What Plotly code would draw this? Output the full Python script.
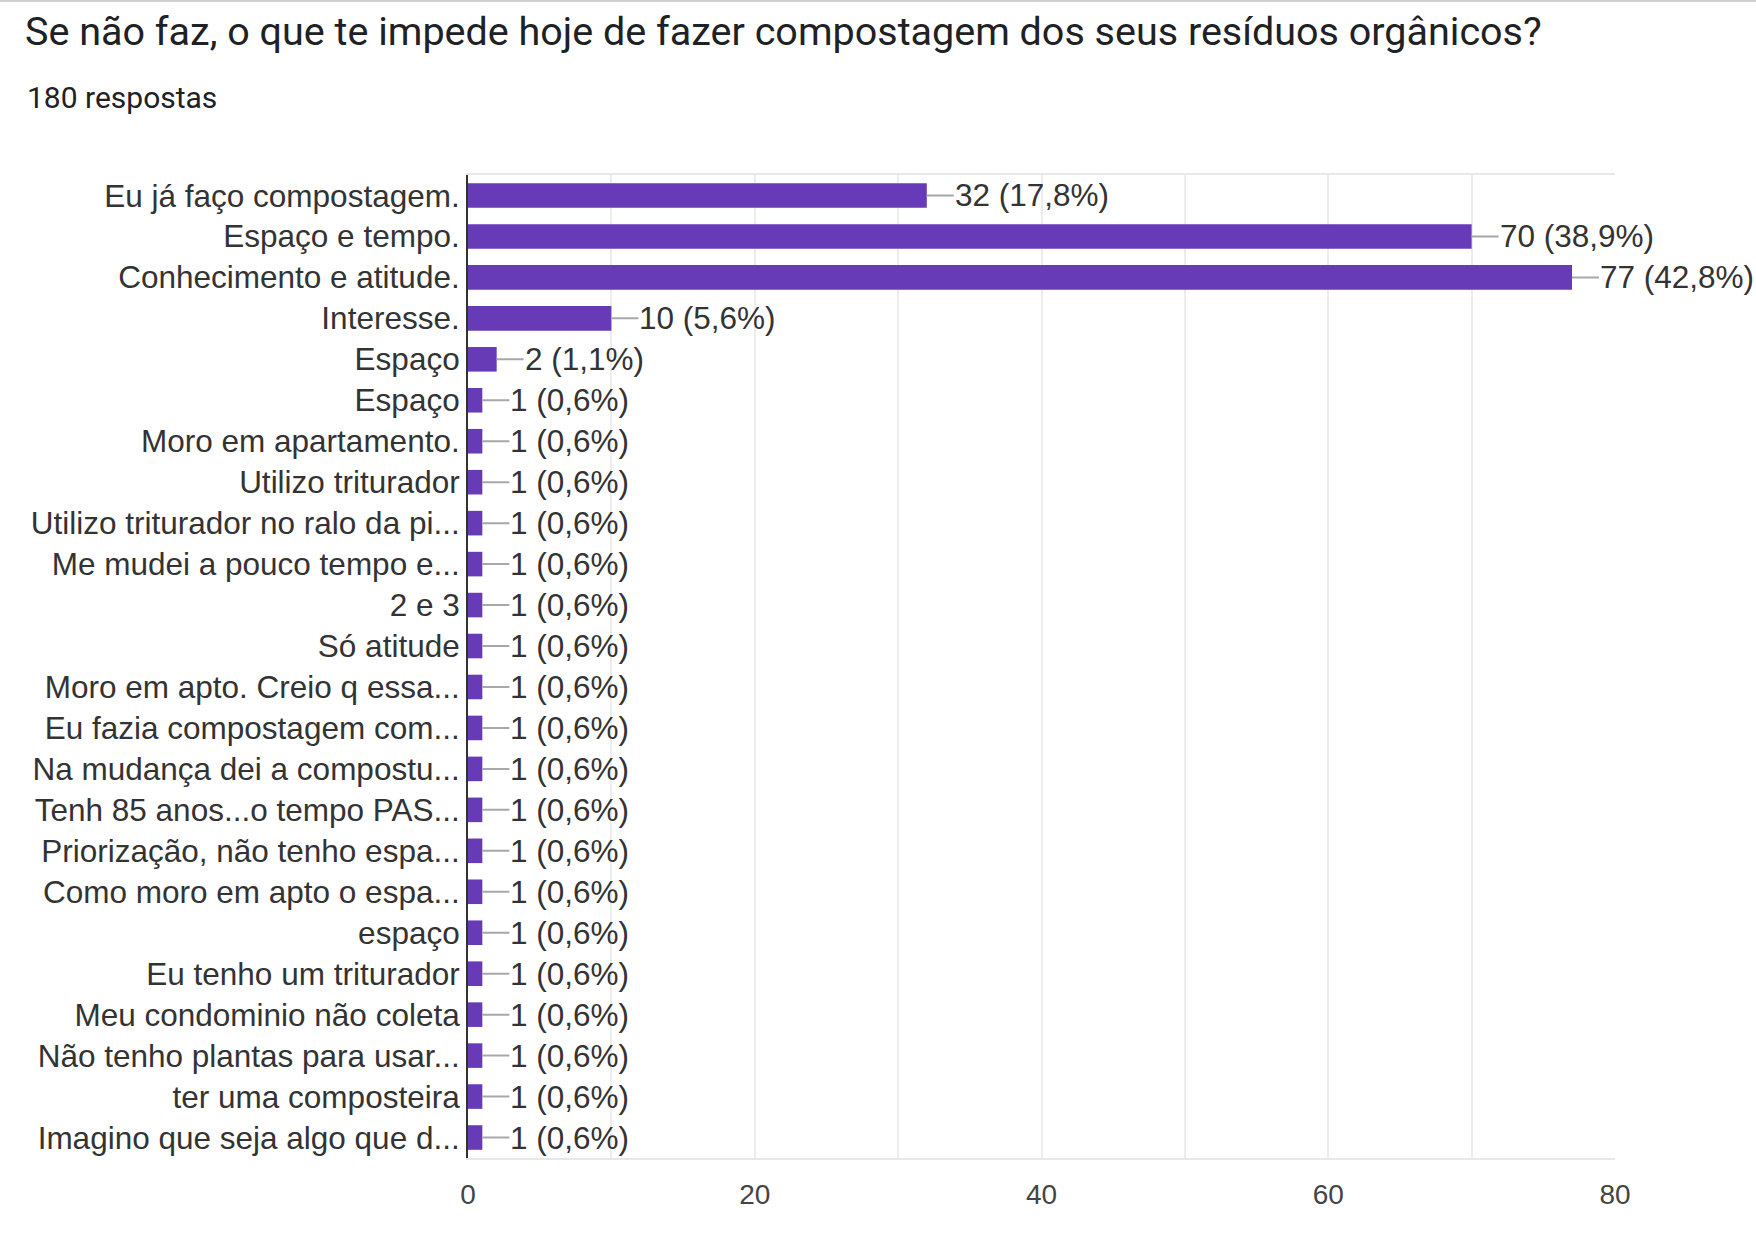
import plotly.graph_objects as go

W, H = 1756, 1233
L, R, T, B = 468, 141, 175, 75

title_text = "Se não faz, o que te impede hoje de fazer compostagem dos seus resíduos orgânicos?"
subtitle_text = "180 respostas"
total_responses = 180

categories = [
    "Eu já faço compostagem.",
    "Espaço e tempo.",
    "Conhecimento e atitude.",
    "Interesse.",
    "Espaço",
    "Espaço",
    "Moro em apartamento.",
    "Utilizo triturador",
    "Utilizo triturador no ralo da pi...",
    "Me mudei a pouco tempo e...",
    "2 e 3",
    "Só atitude",
    "Moro em apto. Creio q essa...",
    "Eu fazia compostagem com...",
    "Na mudança dei a compostu...",
    "Tenh 85 anos...o tempo PAS...",
    "Priorização, não tenho espa...",
    "Como moro em apto o espa...",
    "espaço",
    "Eu tenho um triturador",
    "Meu condominio não coleta",
    "Não tenho plantas para usar...",
    "ter uma composteira",
    "Imagino que seja algo que d...",
]
counts = [32, 70, 77, 10, 2, 1, 1, 1, 1, 1, 1, 1, 1, 1, 1, 1, 1, 1, 1, 1, 1, 1, 1, 1]
x_ticks = [0, 20, 40, 60, 80]

positions = list(range(len(categories)))
labels = [f"{c} ({c / total_responses * 100:.1f}%)".replace(".", ",") for c in counts]

LABEL_FONT = "Arial, 'Liberation Sans', sans-serif"
TITLE_FONT = "Roboto, Arial, sans-serif"

fig = go.Figure()
fig.add_trace(go.Bar(
    x=counts, y=positions, orientation="h",
    marker=dict(color="#673ab7", line=dict(width=0)),
    width=0.6, hoverinfo="x+y",
))

for c, p, lab in zip(counts, positions, labels):
    fig.add_annotation(
        x=c, y=p, xref="x", yref="y", text=lab,
        showarrow=True, arrowhead=0, arrowwidth=2, arrowcolor="#a8a8a8",
        ax=27, ay=0, xanchor="left", yanchor="middle", standoff=0,
        borderpad=0,
        font=dict(family=LABEL_FONT, size=31.5, color="#333333"),
    )

PW = W - L - R
PH = H - T - B
fig.add_annotation(
    text=subtitle_text, xref="paper", yref="paper",
    x=(25 - L) / PW, y=(H - B - 98) / PH, xanchor="left", yanchor="middle",
    showarrow=False, font=dict(family=TITLE_FONT, size=30, color="#202124"),
)

fig.add_shape(type="line", xref="paper", yref="paper",
              x0=-L / PW, x1=(W - L) / PW, y0=(H - B - 1) / PH, y1=(H - B - 1) / PH,
              line=dict(color="#d0d0d0", width=2))

fig.update_layout(
    width=W, height=H,
    margin=dict(l=L, r=R, t=T, b=B),
    paper_bgcolor="white", plot_bgcolor="white",
    showlegend=False,
    bargap=0.4,
    title=dict(text=title_text, x=25 / W, xref="container", xanchor="left",
               y=1 - 31 / H, yref="container", yanchor="middle",
               font=dict(family=TITLE_FONT, size=39.5, color="#202124")),
    xaxis=dict(
        range=[0, 80], tickvals=x_ticks, ticktext=[str(v) for v in x_ticks],
        showgrid=True, gridcolor="#ededed", gridwidth=2,
        minor=dict(dtick=10, tick0=0, showgrid=True, gridcolor="#ededed", gridwidth=2),
        showline=True, mirror=True, linecolor="#e8e8e8", linewidth=2,
        zeroline=False, ticks="outside", ticklen=10, tickcolor="rgba(0,0,0,0)",
        tickfont=dict(family=LABEL_FONT, size=28, color="#444444"),
    ),
    yaxis=dict(
        range=[len(categories) - 0.5, -0.5],
        tickvals=positions, ticktext=categories,
        showgrid=False, zeroline=False,
        showline=True, linecolor="#333333", linewidth=2,
        ticks="", 
        tickfont=dict(family=LABEL_FONT, size=31.5, color="#333333"),
    ),
)

fig.write_html("out.html", config={"displayModeBar": False},
               post_script="document.body.style.margin='0';")
